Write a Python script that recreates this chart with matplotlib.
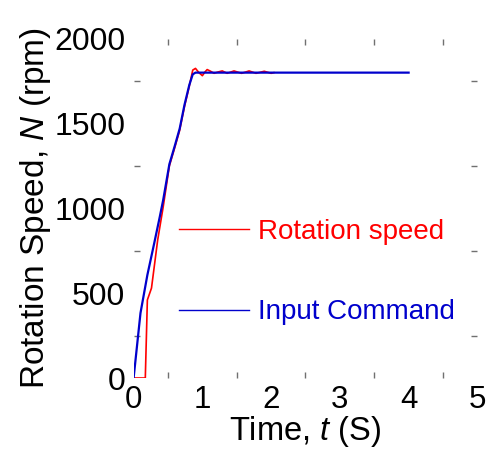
import matplotlib
matplotlib.use("Agg")
import matplotlib.pyplot as plt
from matplotlib.ticker import FixedLocator

plt.rcParams['font.family'] = ['Liberation Sans', 'DejaVu Sans']
plt.rcParams['mathtext.fontset'] = 'custom'
plt.rcParams['mathtext.it'] = 'Liberation Sans:italic'
plt.rcParams['mathtext.rm'] = 'Liberation Sans'

# Input command (blue)
t_cmd = [0.0, 0.10, 0.20, 0.30, 0.38, 0.43, 0.52, 0.60, 0.67, 0.74, 0.81, 0.86, 0.90, 4.0]
n_cmd = [0, 383, 607, 795, 949, 1049, 1260, 1370, 1470, 1610, 1727, 1790, 1800, 1800]

# Measured rotation speed (red)
t_rot = [0.0, 0.17, 0.20, 0.26, 0.35, 0.43, 0.52, 0.60, 0.67, 0.74, 0.81, 0.86, 0.90,
         0.95, 1.00, 1.04, 1.07, 1.12, 1.17, 1.23, 1.29, 1.36, 1.46, 1.57, 1.68,
         1.78, 1.90, 2.00, 2.04]
n_rot = [0, 0, 460, 530, 813, 1008, 1250, 1360, 1460, 1600, 1720, 1815, 1825,
         1800, 1782, 1805, 1818, 1808, 1796, 1804, 1810, 1796, 1810, 1796, 1810,
         1796, 1808, 1796, 1800]

x_ticks = [0, 1, 2, 3, 4, 5]
y_ticks = [0, 500, 1000, 1500, 2000]

fig = plt.figure(figsize=(4.88, 4.5), dpi=100)
ax = fig.add_axes([0.2738, 0.16, 0.7044, 0.754])

red_line, = ax.plot(t_rot, n_rot, color='#ff0000', lw=1.2, label='Rotation speed')
blue_line, = ax.plot(t_cmd, n_cmd, color='#0000cc', lw=1.6, label='Input Command')

ax.set_xlim(0, 5)
ax.set_ylim(0, 2000)
for s in ax.spines.values():
    s.set_visible(False)

ax.xaxis.set_major_locator(FixedLocator(x_ticks))
ax.yaxis.set_major_locator(FixedLocator(y_ticks))
ax.xaxis.set_minor_locator(FixedLocator([0.5, 1.5, 2.5, 3.5, 4.5]))
ax.yaxis.set_minor_locator(FixedLocator([250, 750, 1250, 1750]))
ax.tick_params(which='major', length=0, labelsize=23, pad=6)
ax.tick_params(axis='x', which='major', pad=5, labelsize=22.5)
ax.tick_params(which='minor', direction='in', length=4.5, width=1, color='#707070',
               top=True, right=True, bottom=True, left=True)

ax.set_xlabel('Time, $t$ (S)', fontsize=23.5, labelpad=-1)
ax.set_ylabel('Rotation Speed, $N$ (rpm)', fontsize=24, labelpad=1)

leg = ax.legend(handles=[red_line, blue_line], loc='upper left',
                bbox_to_anchor=(0.366, 0.513), bbox_transform=fig.transFigure,
                frameon=False, fontsize=20, handlelength=2.55, handletextpad=0.3,
                labelspacing=1.95, labelcolor='linecolor', borderaxespad=0, borderpad=0)
for h in leg.get_lines():
    h.set_linewidth(1.0)

fig.savefig('out.png', dpi=100)
